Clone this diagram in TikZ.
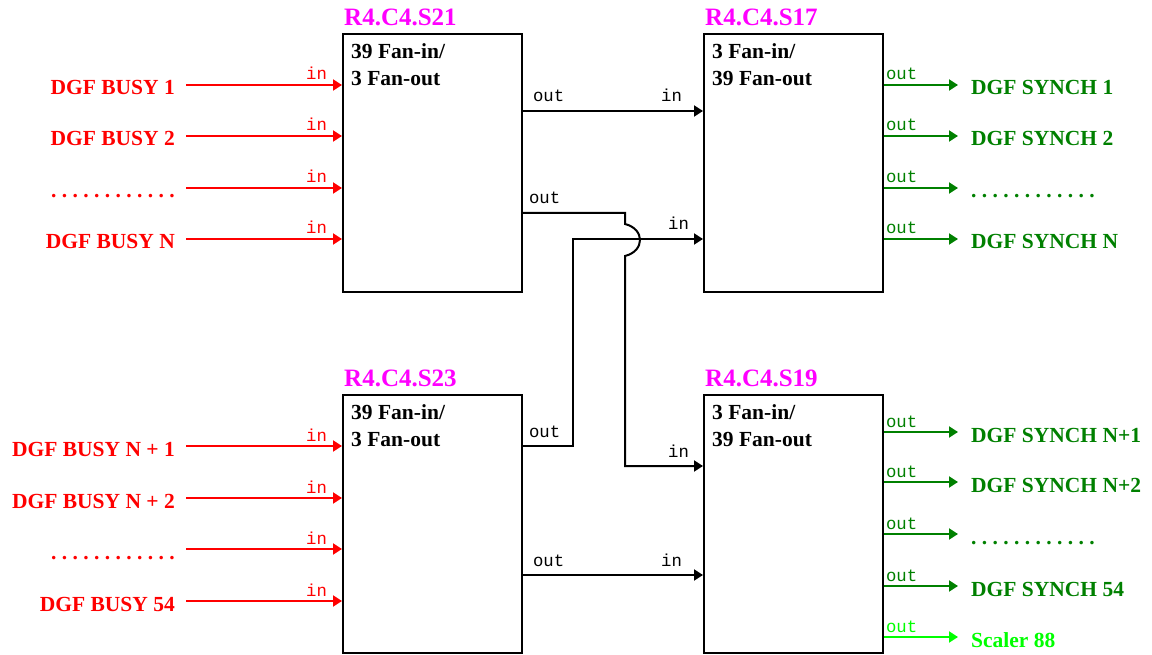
\documentclass[tikz,border=0pt]{standalone}
\usepackage{fontspec}
\setmainfont{Liberation Serif}
\setmonofont{Liberation Mono}
\usetikzlibrary{arrows.meta,positioning}

\definecolor{busyred}{RGB}{255,0,0}
\definecolor{synchgreen}{RGB}{0,128,0}
\definecolor{scalergreen}{RGB}{0,255,0}
\definecolor{slotmagenta}{RGB}{255,0,255}

\tikzset{
  module/.style={draw, line width=2pt, minimum width=179pt, minimum height=258pt,
    anchor=north west, inner sep=0pt},
  slotlbl/.style={font=\bfseries\fontsize{25}{29}\selectfont, text=slotmagenta,
    inner sep=0pt, text depth=0pt},
  fantxt/.style={font=\bfseries\fontsize{21.5}{27}\selectfont, align=left, inner sep=0pt},
  siglbl/.style={font=\bfseries\fontsize{21.5}{26}\selectfont\frenchspacing,
    inner ysep=0pt, text height=14pt, text depth=0pt},
  portlbl/.style={font=\ttfamily\fontsize{17.3}{20}\selectfont, inner sep=0pt},
  sig/.style={line width=2pt, -{Triangle[length=9pt,width=11pt]}},
}

\begin{document}
\begin{tikzpicture}[x=1pt,y=-1pt]
  \useasboundingbox (0,0) rectangle (1152,655);

  % fan modules
  \node[module] (s21) at (342,33) {};
  \node[module] (s17) at (703,33) {};
  \node[module] (s23) at (342,394) {};
  \node[module] (s19) at (703,394) {};

  \foreach \mod/\slot/\fan in {s21/R4.C4.S21/{39 Fan-in/\\3 Fan-out},
      s17/R4.C4.S17/{3 Fan-in/\\39 Fan-out},
      s23/R4.C4.S23/{39 Fan-in/\\3 Fan-out},
      s19/R4.C4.S19/{3 Fan-in/\\39 Fan-out}}
  {
    \node[slotlbl, above right=7pt and 2pt of \mod.north west] (\mod ttl) {\slot};
    \node[fantxt, below right=10pt and 9pt of \mod.north west] (\mod txt) {\fan};
  }

  % busy inputs
  \foreach \y/\name/\mod/\txt in {85/b1/s21/{DGF BUSY 1},136/b2/s21/{DGF BUSY 2},
      188/b3/s21/{. . . . . . . . . . . .},239/b4/s21/{DGF BUSY N},
      446/b5/s23/{DGF BUSY N + 1},498/b6/s23/{DGF BUSY N + 2},
      549/b7/s23/{. . . . . . . . . . . .},601/b8/s23/{DGF BUSY 54}}
  {
    \node[siglbl, text=busyred, anchor=east, inner xsep=11pt] (\name) at (186,\y+3) {\txt};
    \draw[sig, busyred] ([yshift=3pt]\name.east) -- ([yshift=3pt]\name.east -| \mod.west)
      node[portlbl, text=busyred, anchor=base east, xshift=-14pt, yshift=5pt] {in};
  }

  % synch outputs
  \foreach \y/\name/\mod/\col/\txt in {85/o1/s17/synchgreen/{DGF SYNCH 1},
      136/o2/s17/synchgreen/{DGF SYNCH 2},188/o3/s17/synchgreen/{. . . . . . . . . . . .},
      239/o4/s17/synchgreen/{DGF SYNCH N},432/o5/s19/synchgreen/{DGF SYNCH N+1},
      482/o6/s19/synchgreen/{DGF SYNCH N+2},534/o7/s19/synchgreen/{. . . . . . . . . . . .},
      586/o8/s19/synchgreen/{DGF SYNCH 54},637/o9/s19/scalergreen/{Scaler 88}}
  {
    \node[siglbl, text=\col, anchor=west, inner xsep=13pt] (\name) at (958,\y+3) {\txt};
    \draw[sig, \col] ([yshift=3pt]\name.west -| \mod.east)
      node[portlbl, text=\col, anchor=base west, xshift=1pt, yshift=5pt] {out}
      -- ([yshift=3pt]\name.west);
  }

  % module links
  \draw[sig] (s21.east |- 0,111) node[portlbl, anchor=base west, xshift=9pt, yshift=9pt] {out}
    -- (s17.west |- 0,111) node[portlbl, anchor=base east, xshift=-20pt, yshift=9pt] {in};
  \draw[sig] (s21.east |- 0,213) node[portlbl, anchor=base west, xshift=5pt, yshift=9pt] {out}
    -- (625,213) -- (625,224) .. controls (645,229) and (645,251) .. (625,256)
    -- (625,466) -- (s19.west |- 0,466)
    node[portlbl, anchor=base east, xshift=-13pt, yshift=9pt] {in};
  \draw[sig] (s23.east |- 0,446) node[portlbl, anchor=base west, xshift=5pt, yshift=9pt] {out}
    -- (573,446) -- (573,239) -- (s17.west |- 0,239)
    node[portlbl, anchor=base east, xshift=-13pt, yshift=9pt] {in};
  \draw[sig] (s23.east |- 0,575) node[portlbl, anchor=base west, xshift=9pt, yshift=9pt] {out}
    -- (s19.west |- 0,575) node[portlbl, anchor=base east, xshift=-20pt, yshift=9pt] {in};
\end{tikzpicture}
\end{document}
